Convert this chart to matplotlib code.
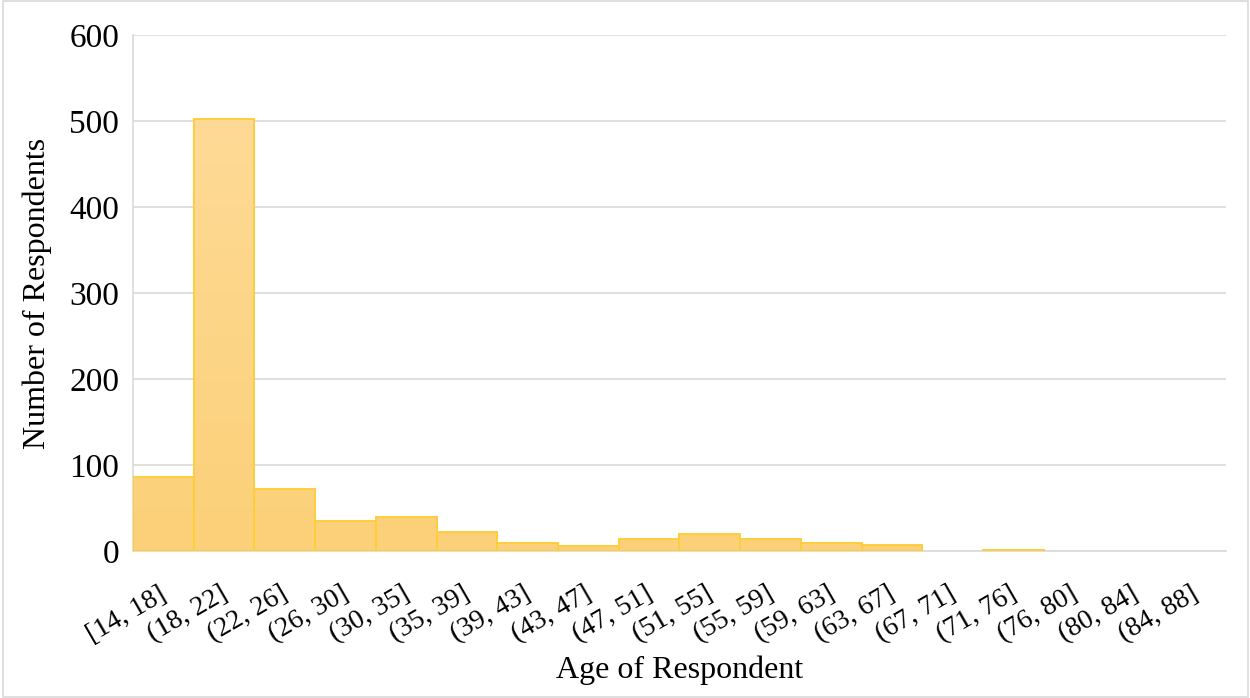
import matplotlib
matplotlib.use("Agg")
import matplotlib.pyplot as plt
import matplotlib.transforms as mtransforms
import numpy as np
from matplotlib.colors import LinearSegmentedColormap
from matplotlib.patches import Rectangle

categories = ["[14, 18]", "(18, 22]", "(22, 26]", "(26, 30]", "(30, 35]", "(35, 39]",
              "(39, 43]", "(43, 47]", "(47, 51]", "(51, 55]", "(55, 59]", "(59, 63]",
              "(63, 67]", "(67, 71]", "(71, 76]", "(76, 80]", "(80, 84]", "(84, 88]"]
counts = [86, 502, 72, 35, 40, 23, 10, 6, 14, 20, 14, 10, 7, 0, 2, 0, 0, 0]
yticks = [0, 100, 200, 300, 400, 500, 600]

plt.rcParams['font.family'] = ['Liberation Serif', 'DejaVu Serif']

fig = plt.figure(figsize=(12.5, 6.98), dpi=100)
ax = fig.add_axes([0.1064, 0.21, 0.8744, 0.74])

x = np.arange(len(categories))
edgecols = ['#FFCD3C' if c > 0 else 'none' for c in counts]
bars = ax.bar(x, counts, width=1.0, color='none', edgecolor=edgecols, linewidth=1.4, zorder=3)

cmap = LinearSegmentedColormap.from_list('g', ['#FCD078', '#FEDC9C'])
ymax = 600
grad = np.linspace(0, 1, 256).reshape(-1, 1)
for b in bars:
    h = b.get_height()
    if h <= 0:
        continue
    x0 = b.get_x()
    im = ax.imshow(grad, extent=[x0, x0 + 1, 0, ymax], origin='lower', cmap=cmap,
                   aspect='auto', zorder=2, vmin=0, vmax=1)
    rect = Rectangle((x0, 0), 1, h, transform=ax.transData)
    im.set_clip_path(rect)

ax.set_xlim(-0.5, len(categories) - 0.5)
ax.set_ylim(0, 600)
ax.set_yticks(yticks)
ax.set_yticklabels([str(v) for v in yticks], fontsize=24)
ax.set_xticks(x)
ax.set_xticklabels(categories, rotation=30, ha='right', rotation_mode='anchor', fontsize=20)
ax.tick_params(axis='y', length=0, pad=10)
ax.tick_params(axis='x', length=0, pad=22)
offset = mtransforms.ScaledTranslation(-5 / 100, 0, fig.dpi_scale_trans)
for lbl in ax.get_xticklabels():
    lbl.set_transform(lbl.get_transform() + offset)

ax.grid(axis='y', color='#D9D9D9', linewidth=1.2, zorder=0)
ax.set_axisbelow(True)
for s in ['top', 'right']:
    ax.spines[s].set_visible(False)
ax.spines['left'].set_color('#D9D9D9')
ax.spines['left'].set_linewidth(1.2)
ax.spines['bottom'].set_color('#D9D9D9')
ax.spines['bottom'].set_linewidth(1.2)

ax.set_ylabel('Number of Respondents', fontsize=23, labelpad=12)
ax.set_xlabel('Age of Respondent', fontsize=23, labelpad=6)

fig.patches.append(Rectangle((0.002, 0.002), 0.996, 0.996, transform=fig.transFigure,
                             fill=False, edgecolor='#D9D9D9', linewidth=1.2))

fig.savefig('out.png', dpi=100)
